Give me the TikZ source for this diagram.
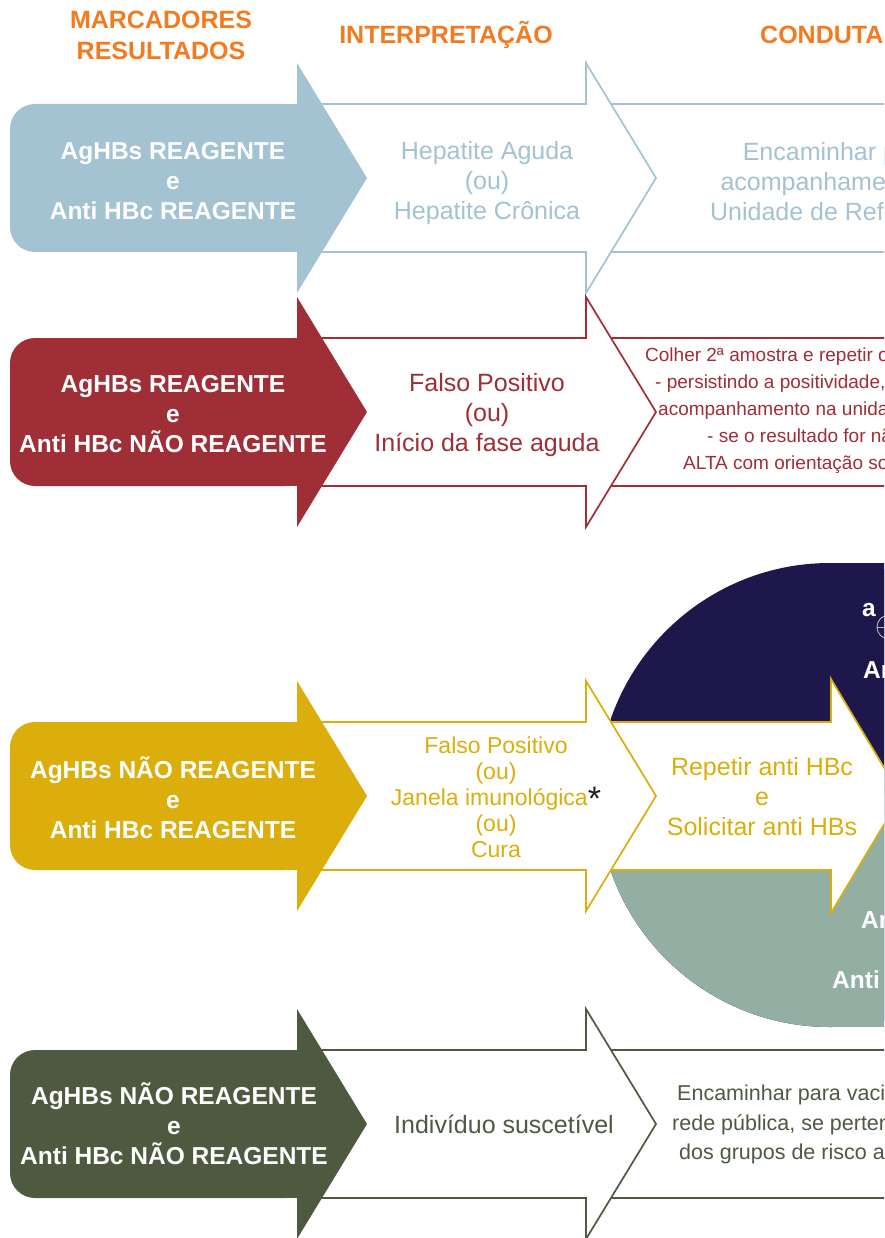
\documentclass[tikz,border=0pt]{standalone}
\usepackage{fontspec}
\setmainfont{Liberation Sans}
\definecolor{cblue}{HTML}{A3C2D2}
\definecolor{cred}{HTML}{A02E36}
\definecolor{cgold}{HTML}{DBAE0B}
\definecolor{colive}{HTML}{4E5A40}
\definecolor{cnavy}{HTML}{1D174B}
\definecolor{csage}{HTML}{93AEA3}
\definecolor{corange}{HTML}{F47A20}
\definecolor{cstar}{HTML}{231F20}
\definecolor{cring}{HTML}{B8B8B8}
\newcommand\markshape[2]{%
  \fill[#1, rounded corners=25] (10,#2-74) rectangle (310,#2+74);
  \fill[#1] (280,#2-74) rectangle (321,#2+74);
  \fill[#1] (297,#2-115) -- (367,#2) -- (297,#2+115) -- cycle;}
\newcommand\interarrow[2]{%
  \draw[outl, draw=#1] (320,#2-74) -- (586,#2-74) -- (586,#2-115) -- (656,#2) -- (586,#2+115) -- (586,#2+74) -- (320,#2+74);}
\newcommand\condrect[2]{%
  \draw[outl, draw=#1] (606,#2-74) rectangle (900,#2+74);}
\begin{document}
\begin{tikzpicture}[x=1pt,y=-1pt,
  outl/.style={fill=white, line width=1.7},
  mk/.style={font=\fontsize{24.5}{30}\selectfont\bfseries, text=white, align=center, inner sep=0},
  it/.style={font=\fontsize{25}{30}\selectfont, align=center, inner sep=0},
  sm/.style={font=\fontsize{19}{27}\selectfont, anchor=west, inner sep=0},
  cd/.style={font=\fontsize{21.5}{29}\selectfont, anchor=west, inner sep=0},
  hd/.style={font=\fontsize{25}{31}\selectfont\bfseries, text=corange, align=center, inner sep=0},
  wt/.style={font=\fontsize{24.5}{30}\selectfont\bfseries, text=white, anchor=west, inner sep=0}]
\useasboundingbox (0,0) rectangle (884,1238);
\clip (0,0) rectangle (884,1238);

% headers
\node[hd] (h1) at (161,35) {MARCADORES\\RESULTADOS};
\node[hd] (h2) at (446,35) {INTERPRETAÇÃO};
\node[hd, anchor=west] (h3) at (760,35) {CONDUTA};

% ---------- row 1 ----------
\condrect{cblue}{178}
\interarrow{cblue}{178}
\markshape{cblue}{178}
\node[mk] (m1) at (173,181) {AgHBs REAGENTE\\e\\Anti HBc REAGENTE};
\node[it, text=cblue] (i1) at (487,183) {Hepatite Aguda\\(ou)\\Hepatite Crônica};
\node[it, text=cblue] (c1) at (838,182) {Encaminhar para\\acompanhamento na\\Unidade de Referência};

% ---------- row 2 ----------
\condrect{cred}{412}
\interarrow{cred}{412}
\markshape{cred}{412}
\node[mk] (m2) at (173,414) {AgHBs REAGENTE\\e\\Anti HBc NÃO REAGENTE};
\node[it, text=cred] (i2) at (487,415) {Falso Positivo\\(ou)\\Início da fase aguda};
\node[sm, text=cred] (c2a) at (645,357) {Colher 2ª amostra e repetir os marcadores};
\node[sm, text=cred] (c2b) at (655,384) {- persistindo a positividade, encaminhar para};
\node[sm, text=cred] (c2c) at (658,411) {acompanhamento na unidade de referência};
\node[sm, text=cred] (c2d) at (707,438) {- se o resultado for não reagente, dar};
\node[sm, text=cred] (c2e) at (683,465) {ALTA com orientação sobre vacinação};

% ---------- row 3 ----------
\fill[cnavy] (830,795) circle[radius=232];
\fill[cnavy] (830,563) rectangle (900,795);
\begin{scope}
  \clip (500,795) rectangle (900,1100);
  \fill[csage] (830,795) circle[radius=232];
\end{scope}
\fill[csage] (830,795) rectangle (900,1027);
\node[wt] (n1) at (862,610) {a};
\draw[cring, line width=0.9] (889,627) circle[radius=12];
\draw[cring, line width=0.9] (877,627) -- (899,627);
\node[wt] (n2) at (863,670) {Anti HBs};
\node[wt] (g1) at (861,920) {Anti HBc};
\node[wt] (g2) at (832,980) {Anti HBs};
\draw[outl, draw=cgold] (600,722) -- (831,722) -- (831,679) -- (901,796) -- (831,913) -- (831,870) -- (600,870);
\interarrow{cgold}{796}
\markshape{cgold}{796}
\node[mk] (m3) at (173,798) {AgHBs NÃO REAGENTE\\e\\Anti HBc REAGENTE};
\node[it, text=cgold, font=\fontsize{23}{26}\selectfont] (i3) at (496,797)
  {Falso Positivo\\(ou)\\Janela imunológica\raisebox{-5pt}{\color{cstar}\fontsize{34}{34}\selectfont*}\\(ou)\\Cura};
\node[it, text=cgold] (c3) at (762,797) {Repetir anti HBc\\e\\Solicitar anti HBs};

% ---------- row 4 ----------
\condrect{colive}{1124}
\interarrow{colive}{1124}
\markshape{colive}{1124}
\node[mk] (m4) at (174,1124) {AgHBs NÃO REAGENTE\\e\\Anti HBc NÃO REAGENTE};
\node[it, text=colive] (i4) at (504,1124) {Indivíduo suscetível};
\node[cd, text=colive] (c4a) at (677,1095) {Encaminhar para vacinação na};
\node[cd, text=colive] (c4b) at (672,1125) {rede pública, se pertencer a um};
\node[cd, text=colive] (c4c) at (679,1154) {dos grupos de risco acrescido};
\end{tikzpicture}
\end{document}
